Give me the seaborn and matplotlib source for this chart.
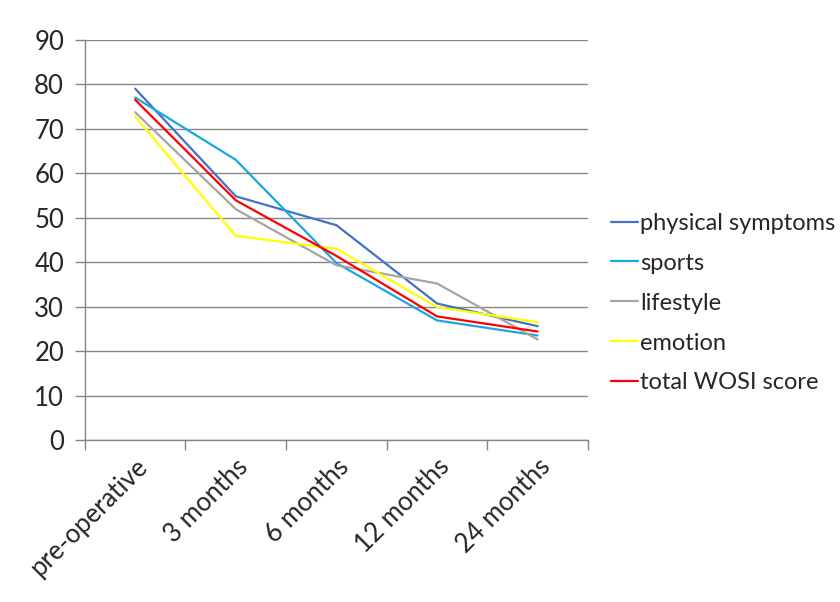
import pandas as pd
import matplotlib
matplotlib.use("Agg")
import matplotlib.pyplot as plt
import matplotlib.transforms as mtransforms
import seaborn as sns

# values
timepoints = ["pre-operative", "3 months", "6 months", "12 months", "24 months"]
physical_symptoms = [79.0, 54.8, 48.3, 30.7, 25.6]
sports = [77.0, 63.0, 39.8, 26.9, 23.5]
lifestyle = [73.7, 51.9, 39.3, 35.2, 22.6]
emotion = [72.7, 45.9, 43.0, 29.9, 26.5]
total_wosi = [76.5, 53.9, 41.4, 27.8, 24.4]

series_names = ["physical symptoms", "sports", "lifestyle", "emotion", "total WOSI score"]
series_values = [physical_symptoms, sports, lifestyle, emotion, total_wosi]
colors = ["#4472C4", "#1AA7E0", "#A5A5A5", "#FFFF00", "#FF0000"]

rows = []
for name, vals in zip(series_names, series_values):
    for i, v in enumerate(vals):
        rows.append({"pos": i, "time": timepoints[i], "score": v, "series": name})
df = pd.DataFrame(rows)

sns.set_theme(style="white")
plt.rcParams["font.family"] = ["Lato", "DejaVu Sans"]
fs = 18.5

fig = plt.figure(figsize=(8.4, 6.02), dpi=100)
ax = fig.add_axes([0.101, 0.269, 0.599, 0.665])

sns.lineplot(data=df, x="pos", y="score", hue="series", hue_order=series_names,
             palette=dict(zip(series_names, colors)), linewidth=1.6, ax=ax)

# axes styling (Excel-like)
ax.set_xlim(-0.5, 4.5)
ax.set_ylim(0, 90)
ax.set_yticks(range(0, 91, 10))
ax.set_xticks(range(len(timepoints)))
ax.set_xticklabels(timepoints, rotation=45, ha="right", rotation_mode="anchor", fontsize=fs)
# nudge the rotated labels a little to the right, like the original
shift = mtransforms.ScaledTranslation(8 / 100, 0, fig.dpi_scale_trans)
for lbl in ax.get_xticklabels():
    lbl.set_transform(lbl.get_transform() + shift)
ax.set_xticks([x - 0.5 for x in range(len(timepoints) + 1)], minor=True)
ax.tick_params(axis="x", which="major", length=0, pad=10)
ax.tick_params(axis="x", which="minor", length=7, color="#868686", width=1, direction="out", bottom=True)
ax.tick_params(axis="y", length=7, color="#868686", width=1, direction="out", left=True, labelsize=fs, pad=8)
ax.yaxis.grid(True, color="#868686", linewidth=1)
ax.set_axisbelow(True)
for side in ["top", "right"]:
    ax.spines[side].set_visible(False)
for side in ["left", "bottom"]:
    ax.spines[side].set_color("#868686")
    ax.spines[side].set_linewidth(1)
ax.set_xlabel("")
ax.set_ylabel("")

leg = ax.legend(loc="center left", bbox_to_anchor=(1.045, 0.342), frameon=False,
                fontsize=17, handlelength=1.15, handletextpad=0.1, labelspacing=0.8,
                borderaxespad=0, borderpad=0)
for line in leg.get_lines():
    line.set_linewidth(1.6)

fig.savefig("out.png", dpi=100)
